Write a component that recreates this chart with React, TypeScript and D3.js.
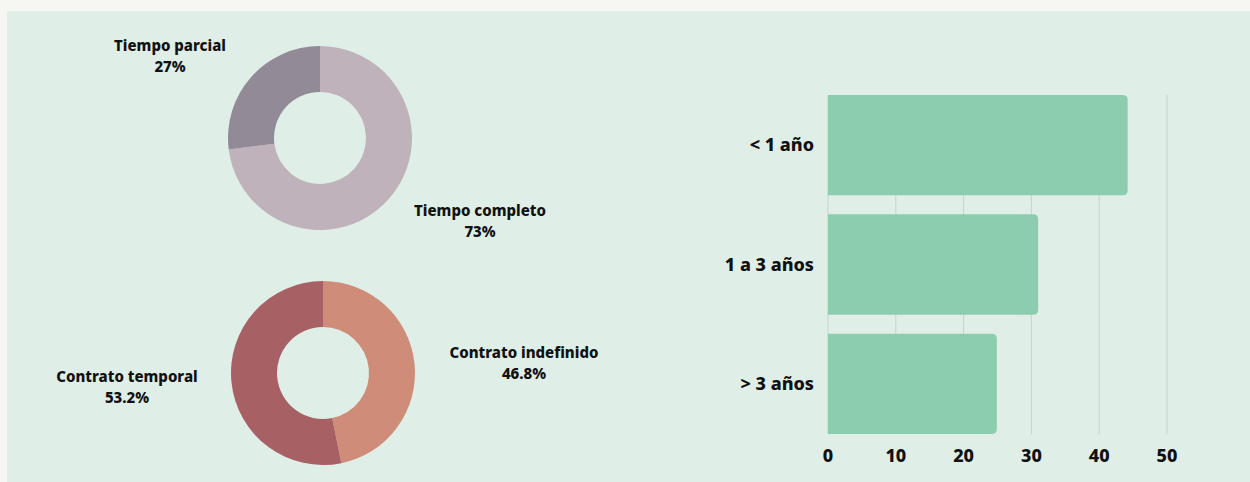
import { useEffect, useRef } from 'react'
import * as d3 from 'd3'

const JORNADA = ['Tiempo completo', 'Tiempo parcial']
const JORNADA_PCT = [73, 27]
const CONTRATO = ['Contrato indefinido', 'Contrato temporal']
const CONTRATO_PCT = [46.8, 53.2]
const ANTIG = ['< 1 año', '1 a 3 años', '> 3 años']
const ANTIG_VAL = [44.2, 31, 24.9]
const TICKS = [0, 10, 20, 30, 40, 50]

const FONT = '"Noto Sans", "Open Sans", sans-serif'

export default function App() {
  const ref = useRef<SVGSVGElement>(null)
  useEffect(() => {
    if (!ref.current) return
    const W = 1250, H = 482
    const svg = d3.select(ref.current)
    svg.selectAll('*').remove()
    svg.append('rect').attr('width', W).attr('height', H).attr('fill', '#f6f7f3')
    svg.append('rect').attr('x', 7).attr('y', 11).attr('width', W - 7).attr('height', H - 11).attr('fill', '#dfeee6')

    const donut = (cx: number, cy: number, names: string[], vals: number[], colors: string[], labels: [number, number][]) => {
      const g = svg.append('g').attr('transform', `translate(${cx},${cy})`)
      const pie = d3.pie<number>().sort(null).value(d => d)
      const arc = d3.arc<d3.PieArcDatum<number>>().innerRadius(46).outerRadius(92)
      g.selectAll('path').data(pie(vals)).join('path').attr('d', arc).attr('fill', (_, i) => colors[i])
      names.forEach((n, i) => {
        const t = svg.append('text').attr('x', labels[i][0]).attr('y', labels[i][1])
          .attr('text-anchor', 'middle').attr('font-family', FONT).attr('font-weight', 800)
          .attr('font-size', 15).attr('fill', '#111')
        t.append('tspan').attr('x', labels[i][0]).text(n)
        t.append('tspan').attr('x', labels[i][0]).attr('dy', 21).text(`${vals[i]}%`)
      })
    }
    donut(320, 138, JORNADA, JORNADA_PCT, ['#bfb2bb', '#938a97'], [[480, 216], [170, 51]])
    donut(323, 373, CONTRATO, CONTRATO_PCT, ['#cf8c78', '#a76064'], [[524, 358], [127, 382]])

    // bar chart
    const x = d3.scaleLinear().domain([0, 50]).range([828, 1167])
    const y = d3.scaleBand().domain(ANTIG).range([95, 434]).paddingInner(0.16).paddingOuter(0)
    const bg = svg.append('g')
    bg.selectAll('line').data(TICKS).join('line')
      .attr('x1', d => x(d)).attr('x2', d => x(d)).attr('y1', 95).attr('y2', 434)
      .attr('stroke', '#c5d3cb').attr('stroke-width', 1)
    bg.selectAll('path.bar').data(ANTIG_VAL).join('path').attr('class', 'bar')
      .attr('fill', '#8ccdaf')
      .attr('d', (d, i) => {
        const x0 = x(0), x1 = x(d), y0 = y(ANTIG[i])!, h = y.bandwidth(), r = 5
        return `M${x0},${y0}H${x1 - r}Q${x1},${y0} ${x1},${y0 + r}V${y0 + h - r}Q${x1},${y0 + h} ${x1 - r},${y0 + h}H${x0}Z`
      })
    bg.selectAll('text.cat').data(ANTIG).join('text').attr('class', 'cat')
      .attr('x', 814).attr('y', d => y(d)! + y.bandwidth() / 2).attr('dy', '0.35em')
      .attr('text-anchor', 'end').attr('font-family', FONT).attr('font-weight', 800)
      .attr('font-size', 18).attr('fill', '#111').text(d => d)
    bg.selectAll('text.tick').data(TICKS).join('text').attr('class', 'tick')
      .attr('x', d => x(d)).attr('y', 462)
      .attr('text-anchor', 'middle').attr('font-family', FONT).attr('font-weight', 800)
      .attr('font-size', 18).attr('fill', '#111').text(d => d)
  }, [])
  return <svg ref={ref} width={1250} height={482} style={{ position: 'absolute', left: 0, top: 0 }} />
}
